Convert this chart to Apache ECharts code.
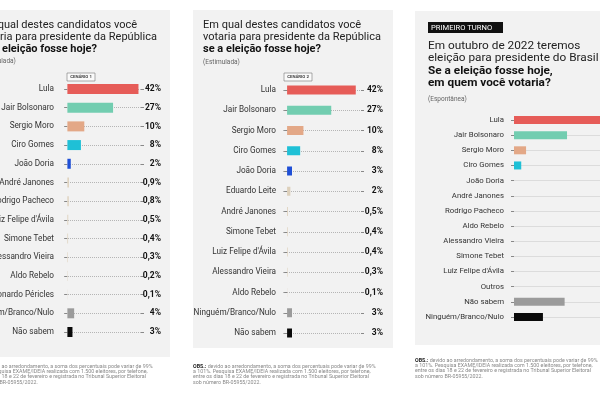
<!DOCTYPE html>
<html><head><meta charset="utf-8">
<script src="https://cdn.jsdelivr.net/npm/echarts@6/dist/echarts.min.js"></script>
<style>html,body{margin:0;padding:0;background:#fff}#c{width:600px;height:400px}</style>
</head><body><div id="c"></div>
<script>
// ---- data ----
const cats1 = ['Lula','Jair Bolsonaro','Sergio Moro','Ciro Gomes','João Doria','André Janones','Rodrigo Pacheco',"Luiz Felipe d'Ávila",'Simone Tebet','Alessandro Vieira','Aldo Rebelo','Leonardo Péricles','Ninguém/Branco/Nulo','Não sabem'];
const vals1 = [42,27,10,8,2,0.9,0.8,0.5,0.4,0.3,0.2,0.1,4,3];
const cats2 = ['Lula','Jair Bolsonaro','Sergio Moro','Ciro Gomes','João Doria','Eduardo Leite','André Janones','Simone Tebet',"Luiz Felipe d'Ávila",'Alessandro Vieira','Aldo Rebelo','Ninguém/Branco/Nulo','Não sabem'];
const vals2 = [42,27,10,8,3,2,0.5,0.4,0.4,0.3,0.1,3,3];
const cats3 = ['Lula','Jair Bolsonaro','Sergio Moro','Ciro Gomes','João Doria','André Janones','Rodrigo Pacheco','Aldo Rebelo','Alessandro Vieira','Simone Tebet',"Luiz Felipe d'Ávila",'Outros','Não sabem','Ninguém/Branco/Nulo'];
const vals3 = [38,22,5,3,0,0,0,0,0,0,0,0,21,12];
const scenario1 = 'CENÁRIO 1', scenario2 = 'CENÁRIO 2';
const titleLines = ['Em qual destes candidatos você','votaria para presidente da República','se a eleição fosse hoje?'];
const title3Lines = ['Em outubro de 2022 teremos','eleição para presidente do Brasil','Se a eleição fosse hoje,','em quem você votaria?'];
const note = ' devido ao arredondamento, a soma dos percentuais pode variar de 99%\na 101%. Pesquisa EXAME/IDEIA realizada com 1.500 eleitores, por telefone,\nentre os dias 18 e 22 de fevereiro e registrada no Tribunal Superior Eleitoral\nsob número BR-05955/2022.';

// ---- styles ----
const colorMap = {
  'Lula':'#e65c58','Jair Bolsonaro':'#72cdb0','Sergio Moro':'#e3a887','Ciro Gomes':'#1fc0d6',
  'João Doria':'#1f4fd6','Ninguém/Branco/Nulo':'#9b9b9b','Não sabem':'#0a0a0a'
};
const colorMap3 = Object.assign({}, colorMap, {'Não sabem':'#9b9b9b','Ninguém/Branco/Nulo':'#0a0a0a'});
const minorColor = '#ddd0bb';
const narrow = "Roboto,'Liberation Sans',sans-serif";
const sans = "Roboto,'Liberation Sans',sans-serif";
const fmt = v => String(v).replace('.', ',') + '%';

function panel(idx, cats, vals, cmap, g, opt) {
  const grid = {left:g.left, top:g.top, width:g.width, height:g.height, containLabel:false, outerBoundsMode:'none'};
  const xAxis = {gridIndex:idx, type:'value', min:g.min, max:g.max, show:false};
  const yL = {gridIndex:idx, type:'category', data:cats, inverse:true, boundaryGap:false,
    axisLine:{show:false},
    axisTick:{show:true, length:3, interval:0, lineStyle:{color:'#888'}},
    axisLabel:{interval:0, margin:g.lm, fontFamily:narrow, fontSize:g.fs, color:'#333', hideOverlap:false},
    splitLine:{show:true, interval:0, lineStyle:{color:opt.lineColor, type:opt.lineType, width:1}}};
  const ys = [yL];
  if (opt.values) {
    ys.push({gridIndex:idx, type:'category', data:cats, inverse:true, boundaryGap:false, position:'right',
      axisLine:{show:false},
      axisTick:{show:true, length:3, interval:0, lineStyle:{color:'#888'}},
      axisLabel:{interval:0, margin:g.rm, align:'right', fontFamily:narrow, fontSize:8.5, fontWeight:'bold', color:'#111',
        formatter:(v,i)=>fmt(vals[i])},
      splitLine:{show:false}});
  }
  const series = {type:'bar', barWidth:g.bw, data: vals.map((v,i)=>({value:v, itemStyle:{color: cmap[cats[i]] || minorColor}})), silent:true, z:3};
  return {grid, xAxis, ys, series};
}

const P1 = panel(0, cats1, vals1, colorMap, {left:64, top:89, width:77, height:243, min:-2, max:43.5, lm:10, rm:20, fs:8.2, bw:10}, {values:true, lineColor:'#b5b5b5', lineType:'dotted'});
const P2 = panel(1, cats2, vals2, colorMap, {left:283, top:90, width:78, height:243, min:-2.5, max:45.2, lm:7, rm:22, fs:8.2, bw:9}, {values:true, lineColor:'#b5b5b5', lineType:'dotted'});
const P3 = panel(2, cats3, vals3, colorMap3, {left:511, top:120, width:197, height:197, min:-1.25, max:80.5, lm:7, rm:0, fs:7.8, bw:8}, {values:false, lineColor:'#dcdcdc', lineType:'solid'});

const grids = [P1.grid, P2.grid, P3.grid];
const xAxes = [P1.xAxis, P2.xAxis, P3.xAxis];
const yAxes = []; const series = [];
[P1,P2,P3].forEach((p,gi)=>{
  const base = yAxes.length;
  p.ys.forEach(y=>yAxes.push(y));
  series.push(Object.assign({}, p.series, {xAxisIndex:gi, yAxisIndex:base}));
});

function txt(x, y, text, size, weight, color, fam) {
  return {type:'text', x, y, z:10, style:{text, fontSize:size, fontWeight:weight||'normal', fontFamily:fam||sans, fill:color||'#222', verticalAlign:'middle', align:'left'}};
}
function noteEl(x, y) {
  return {type:'text', x, y, z:10, style:{text:'{b|OBS.:}' + note, fontSize:5.3, lineHeight:5.2, fontFamily:sans, fill:'#888', verticalAlign:'top', align:'left',
    rich:{b:{fontWeight:'bold', fill:'#222', fontSize:5.3, fontFamily:sans}}}};
}
function scen(x, y, text) {
  return [{type:'rect', x, y, z:9, shape:{width:28, height:8}, style:{fill:'#fafafa', stroke:'#777', lineWidth:0.6}},
          {type:'text', x:x+14, y:y+4, z:10, style:{text, fontSize:4.3, fontWeight:'bold', fontFamily:sans, fill:'#444', align:'center', verticalAlign:'middle'}}];
}

const graphics = [
  {type:'rect', x:-31, y:10, z:-10, shape:{width:201, height:347}, style:{fill:'#f2f2f2'}},
  {type:'rect', x:193, y:10, z:-10, shape:{width:200, height:338}, style:{fill:'#f2f2f2'}},
  {type:'rect', x:415, y:11, z:-10, shape:{width:200, height:334}, style:{fill:'#f2f2f2'}},
  txt(-21, 25, titleLines[0], 11),
  txt(-21, 37, titleLines[1], 11),
  txt(-21, 49, titleLines[2], 11, 'bold', '#111'),
  txt(-21, 61, '(Estimulada)', 6.5, 'normal', '#666'),
  txt(203, 25, titleLines[0], 11),
  txt(203, 37, titleLines[1], 11),
  txt(203, 49, titleLines[2], 11, 'bold', '#111'),
  txt(203, 62, '(Estimulada)', 6.5, 'normal', '#666'),
  {type:'rect', x:428, y:22, z:9, shape:{width:75, height:11}, style:{fill:'#111'}},
  txt(431, 27.8, 'PRIMEIRO TURNO', 7.6, 'normal', '#fff'),
  txt(428, 46, title3Lines[0], 11.8),
  txt(428, 58.5, title3Lines[1], 11.8),
  txt(428, 71, title3Lines[2], 11.8, 'bold', '#111'),
  txt(428, 83, title3Lines[3], 11.8, 'bold', '#111'),
  txt(428, 99, '(Espontânea)', 6.5, 'normal', '#666'),
  noteEl(-30, 364),
  noteEl(193, 364),
  noteEl(415, 358)
].concat(scen(67, 73, scenario1), scen(284, 73, scenario2));

const chart = echarts.init(document.getElementById('c'), null, {renderer:'canvas'});
chart.setOption({
  backgroundColor:'#ffffff',
  animation:false,
  grid:grids, xAxis:xAxes, yAxis:yAxes, series,
  graphic:{elements:graphics}
});
</script></body></html>
